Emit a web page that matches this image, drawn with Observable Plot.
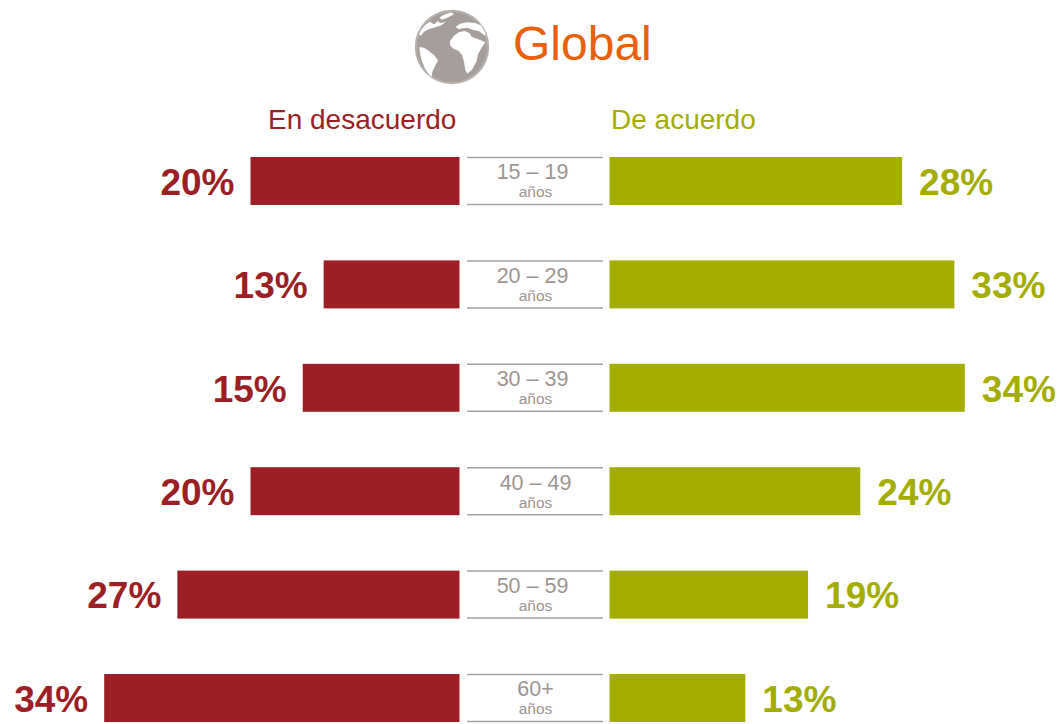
<!DOCTYPE html>
<html><head><meta charset="utf-8">
<script src="https://cdn.jsdelivr.net/npm/d3@7"></script>
<script src="https://cdn.jsdelivr.net/npm/@observablehq/plot@0.6"></script>
<style>
html,body{margin:0;padding:0;background:#fff;font-family:"Liberation Sans",Arial,sans-serif}
#page{position:relative;width:1059px;height:724px;overflow:hidden}
#head{position:relative;height:140px}
#head h1{position:absolute;left:513px;top:16px;margin:0;font-weight:400;font-size:48px;line-height:56px;color:#E8610A}
#globe{position:absolute;left:414px;top:9px}
.leg{position:absolute;top:104px;font-size:28px;line-height:32px}
#plot{position:absolute;left:0;top:140px}
#plot svg{display:block}
</style></head><body>
<div id="page">
<div id="head">
<svg id="globe" width="76" height="76" viewBox="12 12 228 228">
<circle cx="126" cy="126" r="108" fill="#A59E9A" stroke="#B5AFAB" stroke-width="7"/>
<g fill="#fff">
<path d="M27 88C33 72 46 58 60 50L72 58 84 48 90 54 104 52 112 46 96 60 78 66 58 72 42 80 33 92Z"/>
<path d="M88 38C100 30 112 25 124 22L132 28 112 38 96 44Z"/>
<path d="M136 66 150 56 172 52 196 54 214 62 226 84 226 92 206 78 188 74 172 68 160 70 146 72Z"/>
<path d="M120 108 132 92 146 82 164 78 178 84 186 96 204 102 226 112 214 130 204 148 200 168 186 194 172 206 166 196 162 170 156 150 146 138 128 130 120 120Z"/>
<path d="M28 126 42 128 54 136 72 150 84 166 74 186 68 198 64 216C44 196 30 164 28 126Z"/>
</g>
</svg>
<h1>Global</h1>
<div class="leg" style="left:268px;color:#9B1F24">En desacuerdo</div>
<div class="leg" style="left:611px;color:#A3AD00">De acuerdo</div>
</div>
<div id="plot"></div>
</div>
<script>
const ages = ["15 – 19","20 – 29","30 – 39","40 – 49","50 – 59","60+"];
const centredAges = ["40 – 49","60+"];
const unit = "años";
const disagree = [20,13,15,20,27,34];
const agree = [28,33,34,24,19,13];
const red = "#9B1F24", green = "#A3AD00", grey = "#A59E9A", textGrey = "#9C9591";
const rows = ages.map((a,i)=>({age:a,disagree:disagree[i],agree:agree[i]}));
const pct = v => v + "%";
const chart = Plot.plot({
  width:1059, height:584,
  margin:0, marginTop:0, marginBottom:0, marginLeft:0, marginRight:0,
  x:{domain:[-535/10.45,524/10.45],range:[0,1059],axis:null},
  y:{domain:ages,range:[17,582],paddingInner:0.536,paddingOuter:0,round:false,axis:null},
  style:{background:"transparent",fontFamily:"'Liberation Sans',Arial,sans-serif"},
  marks:[
    Plot.barX(rows,{y:"age",x1:0,x2:d=>-d.disagree,fill:red,dx:-75.5}),
    Plot.barX(rows,{y:"age",x1:0,x2:"agree",fill:green,dx:74.5}),
    Plot.text(rows,{y:"age",x:d=>-d.disagree,text:d=>pct(d.disagree),fill:red,textAnchor:"end",dx:-92,dy:1.5,fontSize:37,fontWeight:"bold"}),
    Plot.text(rows,{y:"age",x:"agree",text:d=>pct(d.agree),fill:green,textAnchor:"start",dx:91,dy:1.5,fontSize:37,fontWeight:"bold"}),
    Plot.ruleY(rows,{y:"age",x1:-6.5,x2:6.5,stroke:grey,strokeWidth:1.5,dy:-24}),
    Plot.ruleY(rows,{y:"age",x1:-6.5,x2:6.5,stroke:grey,strokeWidth:1.5,dy:23}),
    Plot.text(rows,{filter:d=>!centredAges.includes(d.age),y:"age",x:0,text:"age",fill:textGrey,fontSize:21.5,dx:-3,dy:-9}),
    Plot.text(rows,{filter:d=>centredAges.includes(d.age),y:"age",x:0,text:"age",fill:textGrey,fontSize:21.5,dy:-9}),
    Plot.text(rows,{y:"age",x:0,text:()=>unit,fill:textGrey,fontSize:15.5,dy:11})
  ]
});
document.getElementById("plot").append(chart);
</script>
</body></html>
